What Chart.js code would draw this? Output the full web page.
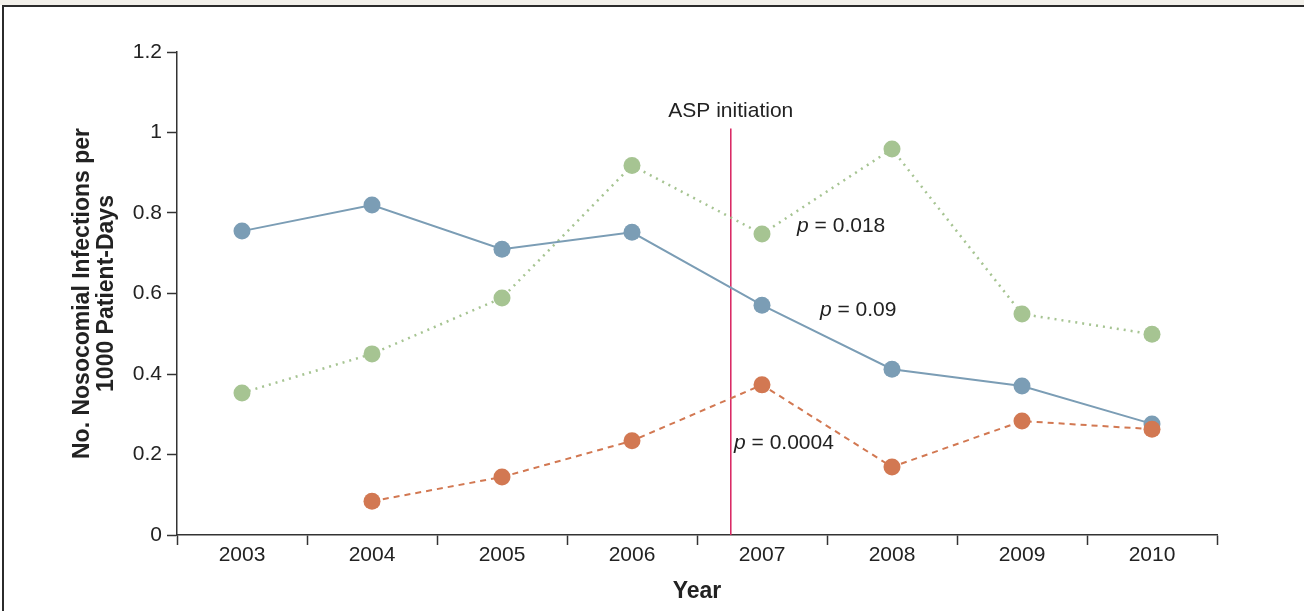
<!DOCTYPE html>
<html>
<head>
<meta charset="utf-8">
<script src="https://cdn.jsdelivr.net/npm/chart.js@4/dist/chart.umd.min.js"></script>
<style>
	body { margin: 0; background: #fff; }
	#wrap { position: relative; width: 1304px; height: 611px; overflow: hidden; }
	#band { position: absolute; left: 0; top: 0; width: 1304px; height: 5px; background: #f2f0ea; }
	#frame { position: absolute; left: 2px; top: 5px; right: 0; bottom: 0; border-top: 2px solid #2b2b2b; border-left: 2px solid #2b2b2b; }
	#chart { position: absolute; left: 0; top: 0; }
</style>
</head>
<body>
<div id="wrap">
	<div id="band"></div>
	<div id="frame"></div>
	<canvas id="chart" width="1304" height="611"></canvas>
</div>
<script>
	// data
	var years = ['2003', '2004', '2005', '2006', '2007', '2008', '2009', '2010'];
	var blueSeries = [0.755, 0.82, 0.71, 0.752, 0.571, 0.412, 0.37, 0.276];
	var greenSeries = [0.353, 0.45, 0.589, 0.918, 0.748, 0.959, 0.549, 0.499];
	var orangeSeries = [null, 0.084, 0.144, 0.234, 0.373, 0.169, 0.283, 0.263];
	var yTicks = [0, 0.2, 0.4, 0.6, 0.8, 1, 1.2];

	var fontFamily = '"Liberation Sans", Arial, Helvetica, sans-serif';
	var axisColor = '#333';

	// vertical marker + p-value notes
	var notesPlugin = {
		id: 'notes',
		beforeDatasetsDraw: function (chart) {
			var ctx = chart.ctx;
			var x = chart.scales.x, y = chart.scales.y;
			var px = x.getPixelForValue(3.76);
			ctx.save();
			ctx.strokeStyle = '#d8215f';
			ctx.lineWidth = 1.5;
			ctx.beginPath();
			ctx.moveTo(px, y.getPixelForValue(1.01));
			ctx.lineTo(px, y.getPixelForValue(0));
			ctx.stroke();
			ctx.fillStyle = '#222';
			ctx.font = '21px ' + fontFamily;
			ctx.textAlign = 'center';
			ctx.textBaseline = 'middle';
			ctx.fillText('ASP initiation', px, y.getPixelForValue(1.052));
			ctx.restore();
		},
		afterDatasetsDraw: function (chart) {
			var ctx = chart.ctx;
			var x = chart.scales.x, y = chart.scales.y;
			var notes = [
				{ xv: 4.27, yv: 0.768, txt: ' = 0.018' },
				{ xv: 4.446, yv: 0.559, txt: ' = 0.09' },
				{ xv: 3.785, yv: 0.229, txt: ' = 0.0004' }
			];
			ctx.save();
			ctx.fillStyle = '#222';
			ctx.textAlign = 'left';
			ctx.textBaseline = 'middle';
			notes.forEach(function (n) {
				var px = x.getPixelForValue(n.xv);
				var py = y.getPixelForValue(n.yv);
				ctx.font = 'italic 21px ' + fontFamily;
				ctx.fillText('p', px, py);
				var w = ctx.measureText('p').width;
				ctx.font = '21px ' + fontFamily;
				ctx.fillText(n.txt, px + w, py);
			});
			ctx.restore();
		}
	};

	var ctx = document.getElementById('chart').getContext('2d');
	new Chart(ctx, {
		type: 'line',
		data: {
			labels: years,
			datasets: [
				{
					label: 'orange',
					data: orangeSeries,
					borderColor: '#d27852',
					backgroundColor: '#d27852',
					borderWidth: 2,
					borderDash: [6, 5],
					pointRadius: 8.5,
					pointBorderWidth: 0,
					spanGaps: false
				},
				{
					label: 'blue',
					data: blueSeries,
					borderColor: '#7b9db5',
					backgroundColor: '#7b9db5',
					borderWidth: 2,
					pointRadius: 8.5,
					pointBorderWidth: 0
				},
				{
					label: 'green',
					data: greenSeries,
					borderColor: '#a6c492',
					backgroundColor: '#a6c492',
					borderWidth: 2.5,
					borderDash: [2, 5],
					pointRadius: 8.5,
					pointBorderWidth: 0
				}
			]
		},
		options: {
			responsive: false,
			animation: false,
			devicePixelRatio: 1,
			layout: { padding: { left: 0, right: 87, top: 52, bottom: 0 } },
			plugins: {
				legend: { display: false },
				tooltip: { enabled: false }
			},
			scales: {
				x: {
					offset: true,
					grid: {
						offset: true,
						drawOnChartArea: false,
						drawTicks: true,
						tickLength: 10,
						tickWidth: 1.5,
						tickColor: axisColor
					},
					border: { color: axisColor, width: 1.5 },
					ticks: {
						color: '#222',
						padding: -2,
						font: { family: fontFamily, size: 21 }
					},
					title: {
						display: true,
						text: 'Year',
						color: '#222',
						padding: { top: 0, bottom: 6 },
						font: { family: fontFamily, size: 23, weight: 'bold' }
					},
					afterFit: function (scale) { scale.height = 76; }
				},
				y: {
					min: 0,
					max: 1.2,
					afterBuildTicks: function (scale) {
						scale.ticks = yTicks.map(function (v) { return { value: v }; });
					},
					grid: {
						drawOnChartArea: false,
						drawTicks: true,
						tickLength: 10,
						tickWidth: 1.5,
						tickColor: axisColor
					},
					border: { color: axisColor, width: 1.5 },
					ticks: {
						color: '#222',
						padding: 5,
						font: { family: fontFamily, size: 21 },
						callback: function (v) { return String(Math.round(v * 10) / 10); }
					},
					title: {
						display: true,
						text: ['No. Nosocomial Infections per', '1000 Patient-Days'],
						color: '#222',
						padding: { top: 71, bottom: 0 },
						font: { family: fontFamily, size: 23, weight: 'bold', lineHeight: '24px' }
					},
					afterFit: function (scale) { scale.width = 177; }
				}
			}
		},
		plugins: [notesPlugin]
	});
</script>
</body>
</html>
